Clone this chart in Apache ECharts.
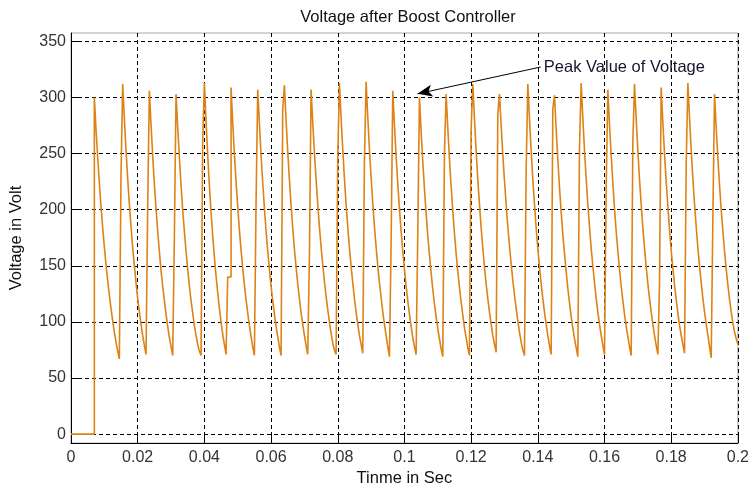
<!DOCTYPE html>
<html><head><meta charset="utf-8">
<script src="https://cdn.jsdelivr.net/npm/echarts@6/dist/echarts.min.js"></script>
<style>html,body{margin:0;padding:0;background:#fff}#c{width:752px;height:492px}</style>
</head><body><div id="c"></div>
<script>
const titleText = 'Voltage after Boost Controller';
const xName = 'Tinme in Sec';
const yName = 'Voltage in Volt';
const annotationText = 'Peak Value of Voltage';

const sampleStep = 0.0005;           // simulation sample time, s
const xMin = 0, xMax = 0.2, xInterval = 0.02;
const yMin = -8, yMax = 357.5;
const yTicks = [0, 50, 100, 150, 200, 250, 300, 350];

// voltage samples (V), one per sampleStep
const leadIn = [0,0,0,0,0,0,0,0,0,0,0,0,0,0];
const cycle01 = [300,272,247,224,203,184,167,151,137,124,112,101,91,82,74,67];
const cycle02 = [230,312,281,253,228,205,185,166,150,135,121,109,98,88,79,71];
const cycle03 = [202,306,276,248,223,201,181,163,146,132,119,107,96,86,78,70];
const cycle04 = [175,303,274,247,222,200,181,163,147,132,119,108,97,88,80,74,70];
const cycle05 = [262,313,279,249,222,198,177,158,141,126,112,100,89,80,71];
const cycle06 = [140,140,309,278,250,225,203,182,164,148,133,120,108,97,87,78,70];
const cycle07 = [206,307,277,249,224,202,181,163,147,132,119,107,96,87,78,70];
const cycle08 = [290,311,280,252,227,204,184,165,149,134,121,108,98,88,79,71];
const cycle09 = [157,307,278,251,227,205,185,167,151,136,123,111,100,90,81,75,71];
const cycle10 = [245,313,282,254,228,205,185,166,150,135,121,109,98,88,80,72];
const cycle11 = [243,314,283,254,229,206,185,167,150,135,122,109,98,88,78,69];
const cycle12 = [169,306,276,248,223,201,181,163,147,132,119,107,96,86,78,71];
const cycle13 = [178,300,270,243,219,197,177,160,144,129,116,105,94,85,76,69];
const cycle14 = [250,303,273,245,221,199,179,161,145,131,118,106,95,86,77,70];
const cycle15 = [272,312,281,253,227,205,184,166,149,134,121,109,98,88,80,73];
const cycle16 = [285,303,275,249,226,205,185,168,152,137,124,112,101,91,82,75,70];
const cycle17 = [235,312,281,253,227,205,184,166,149,134,121,109,98,88,79,71];
const cycle18 = [290,302,272,245,220,198,178,161,145,130,117,105,95,85,77,69];
const cycle19 = [255,313,282,253,228,205,185,166,150,135,121,109,98,88,79,71];
const cycle20 = [220,307,276,249,224,201,181,163,147,132,119,107,96,87,78,70];
const cycle21 = [260,312,281,253,227,205,184,166,149,134,121,109,98,88,79,71];
const cycle22 = [135,309,278,250,225,203,182,164,148,133,120,108,97,88,80,72];
const cycle23 = [240,313,282,253,228,205,185,166,150,135,121,109,98,88,78,68];
const cycle24 = [193,303,273,246,222,200,181,163,147,133,120,109,99,91,85,80];

const voltage = leadIn.concat(cycle01, cycle02, cycle03, cycle04, cycle05, cycle06,
  cycle07, cycle08, cycle09, cycle10, cycle11, cycle12, cycle13, cycle14, cycle15,
  cycle16, cycle17, cycle18, cycle19, cycle20, cycle21, cycle22, cycle23, cycle24);

// annotation arrow (data coordinates: time s, voltage V)
const arrowFrom = [0.1409, 327.2];
const arrowTo = [0.1039, 303.3];

const seriesData = voltage.map((v, i) => [+(i * sampleStep).toFixed(4), v]);

const FONT = '"Liberation Sans", Arial, Helvetica, sans-serif';
const dashed = { type: [4, 3], color: '#000', width: 1 };

const chart = echarts.init(document.getElementById('c'), null, { renderer: 'canvas' });
chart.setOption({
  animation: false,
  backgroundColor: '#fff',
  textStyle: { fontFamily: FONT },
  title: {
    text: titleText, left: 403, top: 4, textAlign: 'center',
    textStyle: { fontFamily: FONT, fontSize: 16.5, fontWeight: 'normal', color: '#111' }
  },
  grid: { left: 68, right: 14, top: 33, bottom: 45, show: true, borderColor: '#a8a8a8', borderWidth: 1, backgroundColor: 'transparent' },
  xAxis: {
    type: 'value', min: xMin, max: xMax, interval: xInterval,
    name: xName, nameLocation: 'middle', nameGap: 26,
    nameTextStyle: { fontFamily: FONT, fontSize: 16.5, color: '#111' },
    axisLine: { show: true, onZero: false, lineStyle: { color: '#000', width: 1 } },
    axisTick: { show: true, inside: true, length: 7, lineStyle: { color: '#000' } },
    axisLabel: { margin: 6, fontFamily: FONT, fontSize: 16, color: '#333', showMaxLabel: true, showMinLabel: true },
    splitLine: { show: true, lineStyle: dashed }
  },
  yAxis: {
    type: 'value', min: yMin, max: yMax,
    name: yName, nameLocation: 'middle', nameGap: 46,
    nameTextStyle: { fontFamily: FONT, fontSize: 16.5, color: '#111' },
    axisLine: { show: true, onZero: false, lineStyle: { color: '#000', width: 1 } },
    axisTick: { show: true, inside: true, length: 7, customValues: yTicks, lineStyle: { color: '#000' } },
    axisLabel: { margin: 5, fontFamily: FONT, fontSize: 16, color: '#333', customValues: yTicks },
    splitLine: { show: true, lineStyle: dashed }
  },
  series: [{
    type: 'line',
    data: seriesData,
    step: 'end',
    showSymbol: false,
    symbol: 'none',
    clip: true,
    lineStyle: { color: '#de8216', width: 1.6 },
    markLine: {
      silent: true,
      animation: false,
      label: { show: false },
      lineStyle: { type: 'solid', color: '#000', width: 1 },
      data: [[
        { coord: arrowFrom, symbol: 'none' },
        { coord: arrowTo, symbol: 'arrow', symbolSize: [9, 15] }
      ]]
    },
    markPoint: {
      silent: true,
      symbol: 'circle', symbolSize: 0,
      data: [{ coord: arrowFrom, value: annotationText }],
      label: { show: true, position: 'right', distance: 3, formatter: annotationText,
        fontFamily: FONT, fontSize: 16.5, color: '#151530' }
    }
  }]
});
</script></body></html>
